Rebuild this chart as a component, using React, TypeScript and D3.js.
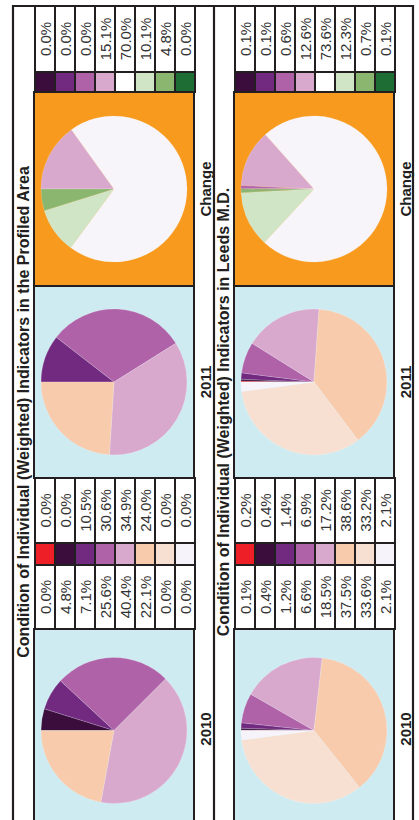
import React from 'react';
import * as d3 from 'd3';

// condition classes, worst to best (red = not assessed)
const conditionColors = ['#ee1f26', '#3a0d3c', '#722a80', '#b062a8', '#d9a9cd', '#f7cbac', '#f7e0d1', '#f6f4fa'];
// change classes, big decline -> big improvement
const changeColors = ['#3a0d3c', '#722a80', '#b062a8', '#d9a9cd', '#ffffff', '#d0e5c6', '#8bb66f', '#1e6d35'];
const noChangeSlice = '#f7f5fa';

const profiled2010 = [0.0, 4.8, 7.1, 25.6, 40.4, 22.1, 0.0, 0.0];
const profiled2011 = [0.0, 0.0, 10.5, 30.6, 34.9, 24.0, 0.0, 0.0];
const profiledChange = [0.0, 0.0, 0.0, 15.1, 70.0, 10.1, 4.8, 0.0];

const leeds2010 = [0.1, 0.4, 1.2, 6.6, 18.5, 37.5, 33.6, 2.1];
const leeds2011 = [0.2, 0.4, 1.4, 6.9, 17.2, 38.6, 33.2, 2.1];
const leedsChange = [0.1, 0.1, 0.6, 12.6, 73.6, 12.3, 0.7, 0.1];

const titles = [
  'Condition of Individual (Weighted) Indicators in the Profiled Area',
  'Condition of Individual (Weighted) Indicators in Leeds M.D.',
];
const panelLabels = ['2010', '2011', 'Change'];

const INK = '#231f20';
const FONT = '"Liberation Sans", Arial, Helvetica, sans-serif';

// unrotated page: u runs along the text, v across
const rowScale = d3.scaleBand<number>().domain(d3.range(8)).range([35, 195]);
const panelV: [number, number] = [34, 194];
const pieR = 73;

const pie = d3.pie<number>().sort(null).value(d => d).startAngle(0).endAngle(2 * Math.PI);
const arc = d3.arc<d3.PieArcDatum<number>>().innerRadius(0).outerRadius(pieR);

const PiePanel: React.FC<{ u0: number; u1: number; bg: string; values: number[]; colors: string[] }> = ({ u0, u1, bg, values, colors }) => {
  const cu = (u0 + u1) / 2;
  const cv = (panelV[0] + panelV[1]) / 2;
  return (
    <g>
      <rect x={u0} y={panelV[0]} width={u1 - u0} height={panelV[1] - panelV[0]} fill={bg} stroke={INK} strokeWidth={2} />
      <g transform={`translate(${cu},${cv})`}>
        {pie(values).map((s, i) => (
          <path key={i} d={arc(s) || ''} fill={colors[i] === '#ffffff' ? noChangeSlice : colors[i]}
            stroke="#ffffff" strokeOpacity={0.35} strokeWidth={s.value > 0 ? 0.5 : 0} />
        ))}
      </g>
    </g>
  );
};

const ValueColumn: React.FC<{ u0: number; u1: number; values: number[] }> = ({ u0, u1, values }) => (
  <g>
    {values.map((v, i) => (
      <g key={i}>
        <rect x={u0} y={rowScale(i)} width={u1 - u0} height={rowScale.bandwidth()} fill="#ffffff" stroke={INK} strokeWidth={2} />
        <text x={(u0 + u1) / 2} y={(rowScale(i) as number) + rowScale.bandwidth() / 2} textAnchor="middle"
          dominantBaseline="central" fontSize={15} fill="#333" fontFamily={FONT}>
          {v.toFixed(1)}%
        </text>
      </g>
    ))}
  </g>
);

const SwatchColumn: React.FC<{ u0: number; u1: number; colors: string[] }> = ({ u0, u1, colors }) => (
  <g>
    {colors.map((c, i) => (
      <rect key={i} x={u0} y={rowScale(i)} width={u1 - u0} height={rowScale.bandwidth()} fill={c} stroke={INK} strokeWidth={2} />
    ))}
  </g>
);

const Half: React.FC<{ offset: number; title: string; d2010: number[]; d2011: number[]; dChange: number[] }> = ({ offset, title, d2010, d2011, dChange }) => {
  const centers = [91, 438, 631];
  return (
    <g transform={`translate(0,${offset})`}>
      <text x={408} y={23} textAnchor="middle" dominantBaseline="central" fontSize={16} fontWeight="bold" fill={INK} fontFamily={FONT}>
        {title}
      </text>
      <PiePanel u0={-12} u1={191} bg="#cfebf2" values={d2010} colors={conditionColors} />
      <ValueColumn u0={191} u1={255} values={d2010} />
      <SwatchColumn u0={255} u1={277} colors={conditionColors} />
      <ValueColumn u0={277} u1={342} values={d2011} />
      <PiePanel u0={342} u1={534} bg="#cfebf2" values={d2011} colors={conditionColors} />
      <PiePanel u0={534} u1={728} bg="#f79a1e" values={dChange} colors={changeColors} />
      <SwatchColumn u0={728} u1={748} colors={changeColors} />
      <ValueColumn u0={748} u1={814} values={dChange} />
      {panelLabels.map((l, i) => (
        <text key={l} x={centers[i]} y={205} textAnchor="middle" dominantBaseline="central" fontSize={15} fontWeight="bold" fill={INK} fontFamily={FONT}>
          {l}
        </text>
      ))}
    </g>
  );
};

export default function App() {
  return (
    <svg width={419} height={820} style={{ position: 'absolute', left: 0, top: 0, background: '#ffffff' }}>
      <g transform="translate(0,820) rotate(-90)">
        {[13, 214, 413].map(v => (
          <line key={v} x1={-10} x2={815} y1={v} y2={v} stroke={INK} strokeWidth={2.2} />
        ))}
        <line x1={814} x2={814} y1={12} y2={414} stroke={INK} strokeWidth={2.2} />
        <Half offset={0} title={titles[0]} d2010={profiled2010} d2011={profiled2011} dChange={profiledChange} />
        <Half offset={200} title={titles[1]} d2010={leeds2010} d2011={leeds2011} dChange={leedsChange} />
      </g>
    </svg>
  );
}
